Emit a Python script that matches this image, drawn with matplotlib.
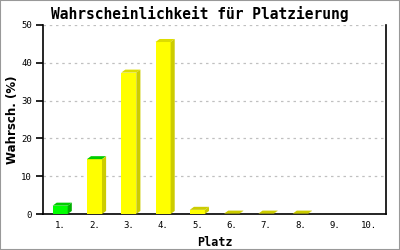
import matplotlib
matplotlib.use("Agg")
import matplotlib.pyplot as plt
from matplotlib.patches import Polygon, Rectangle

places = ["1.", "2.", "3.", "4.", "5.", "6.", "7.", "8.", "9.", "10."]
probs = [2.2, 14.5, 37.4, 45.5, 1.1, 0.1, 0.1, 0.1, 0.0, 0.0]
front_cols = ["#00ff00", "#ffff00", "#ffff00", "#ffff00", "#ffff00",
              "#ffff00", "#ffff00", "#ffff00", "#ffff00", "#ffff00"]
top_cols = ["#00cc00", "#00cc00", "#dddd00", "#dddd00", "#cccc00",
            "#cccc00", "#cccc00", "#cccc00", "#cccc00", "#cccc00"]
side_cols = ["#00b000", "#cccc00", "#cccc00", "#cccc00", "#cccc00",
             "#cccc00", "#cccc00", "#cccc00", "#cccc00", "#cccc00"]

fig = plt.figure(figsize=(4, 2.5), dpi=100)
fig.patches.append(Rectangle((0, 0), 1, 1, transform=fig.transFigure,
                             fill=False, edgecolor="#999999", lw=1.5))
ax = fig.add_axes([0.1075, 0.144, 0.8575, 0.756])

w = 0.44   # front width
dx = 0.12  # depth offset (x, data units)
dy = 0.8   # depth offset (y, data units)

xs = list(range(1, len(places) + 1))
ax.bar(xs, probs, width=w, color=front_cols, zorder=3)
for x, v, tc, sc in zip(xs, probs, top_cols, side_cols):
    if v <= 0:
        continue
    l, r = x - w / 2, x + w / 2
    ax.add_patch(Polygon([(l, v), (r, v), (r + dx, v + dy), (l + dx, v + dy)],
                         closed=True, facecolor=tc, edgecolor="none", zorder=3))
    ax.add_patch(Polygon([(r, 0), (r + dx, dy), (r + dx, v + dy), (r, v)],
                         closed=True, facecolor=sc, edgecolor="none", zorder=3))

ax.set_xlim(0.5, 10.5)
ax.set_ylim(0, 50)
ax.set_yticks([0, 10, 20, 30, 40, 50])
ax.set_xticks(xs)
ax.set_xticklabels(places)
ax.yaxis.grid(True, color="#c0c0c0", linestyle=(0, (2, 3)), lw=0.9, zorder=1)
ax.spines["top"].set_visible(False)
for s in ["left", "bottom", "right"]:
    ax.spines[s].set_linewidth(1.2)
ax.tick_params(axis="y", length=5, width=1.2, pad=3)
ax.tick_params(axis="x", length=0, pad=5)
for lab in ax.get_xticklabels() + ax.get_yticklabels():
    lab.set_fontfamily("DejaVu Sans Mono")
    lab.set_fontsize(6.5)

fig.text(0.5, 0.945, "Wahrscheinlichkeit für Platzierung", ha="center",
         va="center", fontsize=10.5, family="DejaVu Sans Mono",
         fontweight="bold")
ax.set_xlabel("Platz", fontsize=8.5, family="DejaVu Sans Mono",
              fontweight="bold", labelpad=4)
fig.text(0.032, 0.52, "Wahrsch. (%)", rotation=90, ha="center", va="center",
         fontsize=8.5, family="DejaVu Sans", fontweight="bold")

fig.savefig("out.png", dpi=100)
